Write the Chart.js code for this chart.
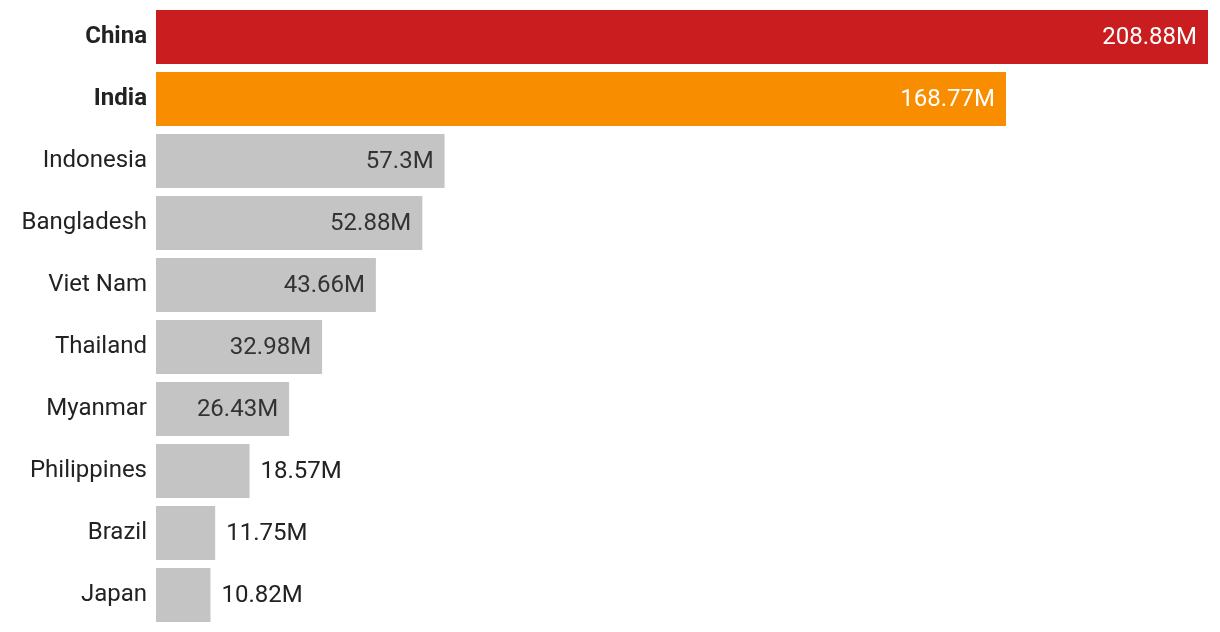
<!DOCTYPE html>
<html>
<head>
<meta charset="utf-8">
<script src="https://cdn.jsdelivr.net/npm/chart.js@4/dist/chart.umd.min.js"></script>
<style>
  html, body { margin: 0; padding: 0; background: #fff; }
  #wrap { position: relative; width: 1220px; height: 632px; }
</style>
</head>
<body>
<div id="wrap"><canvas id="chart"></canvas></div>
<script>
const countries = ['China', 'India', 'Indonesia', 'Bangladesh', 'Viet Nam', 'Thailand', 'Myanmar', 'Philippines', 'Brazil', 'Japan'];
const values = [208.88, 168.77, 57.3, 52.88, 43.66, 32.98, 26.43, 18.57, 11.75, 10.82];
const highlighted = ['China', 'India'];
const barColors = ['#c91d1f', '#f98d00', '#c4c4c4', '#c4c4c4', '#c4c4c4', '#c4c4c4', '#c4c4c4', '#c4c4c4', '#c4c4c4', '#c4c4c4'];

const FONT = 'Roboto';

// value labels: inside the bar when they fit, outside otherwise
const valueLabels = {
  id: 'valueLabels',
  afterDatasetsDraw(chart) {
    const ctx = chart.ctx;
    const meta = chart.getDatasetMeta(0);
    ctx.save();
    ctx.font = '24px ' + FONT;
    ctx.textBaseline = 'middle';
    meta.data.forEach((bar, i) => {
      const txt = values[i] + 'M';
      const w = ctx.measureText(txt).width;
      const barW = bar.x - bar.base;
      const pad = 11;
      if (w + pad * 2 <= barW) {
        ctx.textAlign = 'right';
        ctx.fillStyle = highlighted.includes(countries[i]) ? '#ffffff' : '#333333';
        ctx.fillText(txt, bar.x - pad, bar.y + 1);
      } else {
        ctx.textAlign = 'left';
        ctx.fillStyle = '#222222';
        ctx.fillText(txt, bar.x + pad, bar.y + 1);
      }
    });
    ctx.restore();
  }
};

new Chart(document.getElementById('chart'), {
  type: 'bar',
  data: {
    labels: countries,
    datasets: [{
      data: values,
      backgroundColor: barColors,
      borderWidth: 0,
      barPercentage: 0.87,
      categoryPercentage: 1.0
    }]
  },
  options: {
    indexAxis: 'y',
    responsive: true,
    maintainAspectRatio: false,
    animation: false,
    layout: { padding: { top: 6, bottom: 6, left: 0, right: 12 } },
    plugins: {
      legend: { display: false },
      tooltip: { enabled: false }
    },
    scales: {
      x: {
        display: false,
        min: 0,
        max: 208.88
      },
      y: {
        afterFit(scale) {
          scale.width = 156;
          scale.paddingTop = 0;
          scale.paddingBottom = 0;
        },
        grid: { display: false },
        border: { display: false },
        ticks: {
          padding: 1,
          color: '#222222',
          font: (c) => ({
            family: FONT,
            size: 24,
            weight: highlighted.includes(countries[c.index]) ? 'bold' : 'normal'
          })
        }
      }
    }
  },
  plugins: [valueLabels]
});
</script>
</body>
</html>
